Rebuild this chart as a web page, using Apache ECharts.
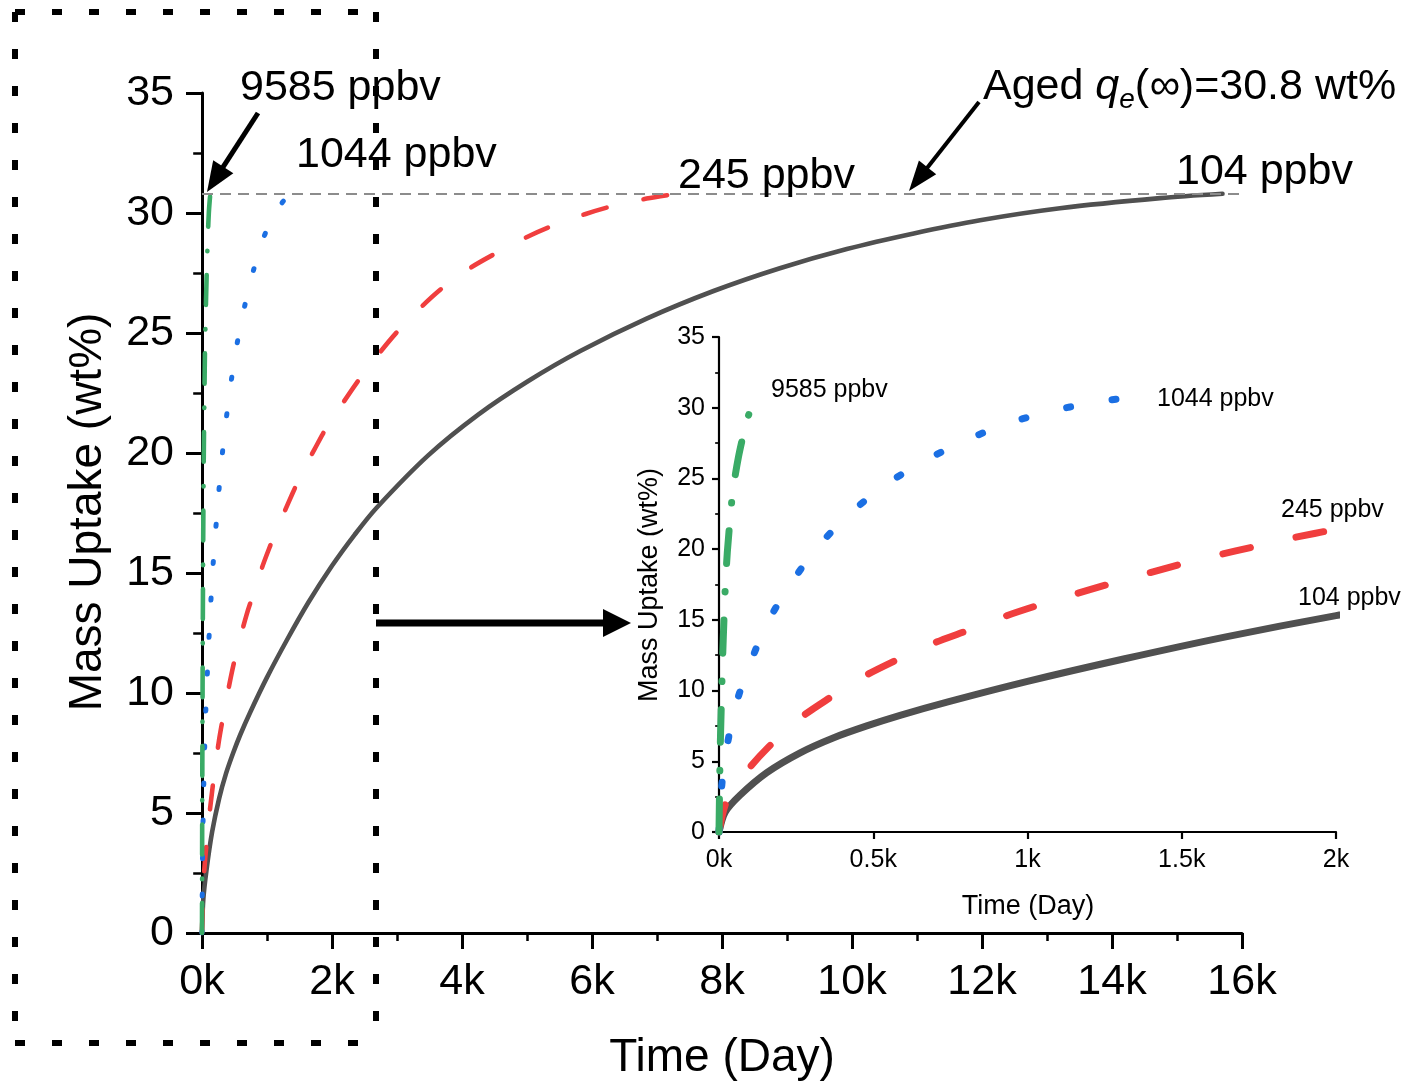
<!DOCTYPE html>
<html>
<head>
<meta charset="utf-8">
<script src="https://cdn.jsdelivr.net/npm/echarts@6/dist/echarts.min.js"></script>
<style>
  html, body { margin: 0; padding: 0; background: #fff; }
  #chart { width: 1412px; height: 1086px; }
</style>
</head>
<body>
<div id="chart"></div>
<script>
// Mass uptake vs. exposure time at four vapour concentrations
const QE_INF = 30.8;            // aged equilibrium capacity, wt%

const days9585   = [0, 3, 5, 9, 12, 16, 20, 27, 38, 46, 63, 78, 92, 105, 118, 128];
const uptake9585 = [0, 4.8, 6.9, 10.2, 12.5, 15.0, 17.1, 19.8, 22.6, 24.3, 26.5, 28.0, 29.2, 30.0, 30.5, 30.8];

const days1044   = [0, 9, 28, 59, 106, 162, 236, 314, 414, 530, 663, 791, 924, 1065, 1210, 1340];
const uptake1044 = [0, 3.3, 6.3, 9.3, 12.2, 15.0, 17.65, 20.0, 22.3, 24.4, 26.2, 27.6, 28.8, 29.7, 30.35, 30.75];

const days245   = [0, 25, 90, 160, 260, 360, 470, 570, 690, 800, 920, 1030, 1150, 1260, 1390, 1500, 1620, 1730, 1860, 2000,
                   2400, 2740, 3020, 3380, 3710, 4120, 4540, 5000, 5380, 5890, 6330, 6840, 7300];
const uptake245 = [0, 2.2, 4.3, 6.0, 8.0, 9.5, 11.0, 12.1, 13.3, 14.2, 15.2, 16.0, 16.8, 17.5, 18.3, 18.95, 19.6, 20.15, 20.8, 21.4,
                   23.0, 24.2, 25.1, 26.1, 26.9, 27.7, 28.35, 29.0, 29.45, 29.95, 30.3, 30.6, 30.8];

const days104   = [0, 20, 68, 155, 263, 370, 479, 587, 742, 1000, 1315, 1643, 2000, 2350, 2680, 3480, 4250, 5020, 5820,
                   6840, 7870, 8890, 9920, 10950, 11970, 13200, 14740, 15700];
const uptake104 = [0, 1.4, 2.6, 4.2, 5.6, 6.65, 7.5, 8.25, 9.2, 10.65, 12.25, 13.8, 15.3, 16.6, 17.7, 19.9, 21.6, 23.0, 24.25,
                   25.6, 26.75, 27.7, 28.5, 29.15, 29.7, 30.2, 30.62, 30.8];

const mainTicksX = { min: 0, max: 16000, interval: 2000 };
const insetTicksX = { min: 0, max: 2000, interval: 500 };
const ticksY = { min: 0, max: 35, interval: 5 };

const FONT = '"Liberation Sans", Arial, Helvetica, sans-serif';
const C104 = '#505050', C245 = '#f03e3e', C1044 = '#1b6fe3', C9585 = '#3aab66';

const pairs = (t, q) => t.map((d, i) => [d, q[i]]);

function lineSeries(name, t, q, axisIdx, color, width, dash, extra) {
  return Object.assign({
    name, type: 'line', xAxisIndex: axisIdx, yAxisIndex: axisIdx,
    data: pairs(t, q), showSymbol: false, symbol: 'none', smooth: 0.3,
    clip: true, silent: true,
    lineStyle: { color, width, type: dash, cap: 'round', join: 'round' }
  }, extra || {});
}

function xAxisCfg(grid, ticks, fontSize, margin, tickLen, minor, lineW) {
  return {
    gridIndex: grid, type: 'value', min: ticks.min, max: ticks.max, interval: ticks.interval,
    axisLine: { show: true, onZero: false, lineStyle: { color: '#000', width: lineW } },
    axisTick: { show: true, length: tickLen, lineStyle: { color: '#000', width: lineW } },
    minorTick: { show: minor, splitNumber: 2, length: tickLen / 2, lineStyle: { color: '#000', width: lineW - 0.5 } },
    splitLine: { show: false }, minorSplitLine: { show: false },
    axisLabel: { formatter: v => (v / 1000) + 'k', fontSize, color: '#000', fontFamily: FONT, margin }
  };
}
function yAxisCfg(grid, fontSize, margin, tickLen, lineW) {
  return {
    gridIndex: grid, type: 'value', min: ticksY.min, max: ticksY.max, interval: ticksY.interval,
    axisLine: { show: true, onZero: false, lineStyle: { color: '#000', width: lineW } },
    axisTick: { show: true, length: tickLen, lineStyle: { color: '#000', width: lineW } },
    minorTick: { show: true, splitNumber: 2, length: tickLen * 0.55, lineStyle: { color: '#000', width: lineW - 0.5 } },
    splitLine: { show: false }, minorSplitLine: { show: false },
    axisLabel: { fontSize, color: '#000', fontFamily: FONT, margin }
  };
}

// ---- annotation helpers ----
function txt(s, x, y, size, opts) {
  const o = opts || {};
  return {
    type: 'text', silent: true, z: 100,
    rotation: o.rotation || 0, x: o.rotation ? x : 0, y: o.rotation ? y : 0,
    style: {
      text: s, x: o.rotation ? 0 : x, y: o.rotation ? 0 : y,
      font: (o.italic ? 'italic ' : '') + size + 'px ' + FONT,
      fill: '#000',
      align: o.align || 'left', textAlign: o.align || 'left',
      verticalAlign: 'middle', textVerticalAlign: 'middle'
    }
  };
}
function arrow(x1, y1, x2, y2, w, headLen, headW) {
  const dx = x2 - x1, dy = y2 - y1, L = Math.hypot(dx, dy), ux = dx / L, uy = dy / L;
  const bx = x2 - ux * headLen, by = y2 - uy * headLen;
  return [
    { type: 'line', silent: true, z: 100, shape: { x1, y1, x2: bx + ux * 2, y2: by + uy * 2 },
      style: { stroke: '#000', lineWidth: w } },
    { type: 'polygon', silent: true, z: 100,
      shape: { points: [[x2, y2], [bx - uy * headW / 2, by + ux * headW / 2], [bx + uy * headW / 2, by - ux * headW / 2]] },
      style: { fill: '#000' } }
  ];
}
function dotted(x1, y1, x2, y2) {
  return { type: 'line', silent: true, z: 90, shape: { x1, y1, x2, y2 },
    style: { stroke: '#000', lineWidth: 6, lineDash: [10, 27] } };
}

// rich label "Aged q_e(∞)=30.8 wt%" assembled from pieces
const measureCtx = document.createElement('canvas').getContext('2d');
function tw(s, font) { measureCtx.font = font; return measureCtx.measureText(s).width; }
function qeLabel(x0, yc, size) {
  const subSize = Math.round(size * 0.66);
  const parts = [
    ['Aged ', size, false, 0],
    ['q', size, true, 0],
    ['e', subSize, true, size * 0.3],
    ['(', size, false, 0],
    ['\u221E', size, true, 0],
    [')=' + QE_INF + ' wt%', size, false, 0]
  ];
  const out = [];
  let x = x0;
  parts.forEach(([s, sz, it, dy]) => {
    out.push(txt(s, x, yc + dy, sz, { italic: it }));
    x += tw(s, (it ? 'italic ' : '') + sz + 'px ' + FONT);
  });
  return out;
}

const graphics = [].concat(
  // dotted frame around the early-time region
  dotted(15, 12, 15, 1045),
  dotted(15, 12, 376, 12),
  dotted(376, 12, 376, 1045),
  dotted(15, 1043, 376, 1043),
  // arrow towards the enlarged view
  arrow(376, 623, 631, 623, 7, 28, 28),
  // pointer arrows
  arrow(258, 113, 207, 192, 5, 30, 24),
  arrow(979, 102, 909, 191, 4, 30, 22),
  // main labels
  txt('9585 ppbv', 240, 88, 43),
  txt('1044 ppbv', 296, 155, 43),
  txt('245 ppbv', 678, 176, 43),
  txt('104 ppbv', 1176, 172, 43),
  qeLabel(983, 87, 43),
  txt('Mass Uptake (wt%)', 88, 512, 46, { rotation: Math.PI / 2, align: 'center' }),
  txt('Time (Day)', 722, 1058, 46, { align: 'center' }),
  // inset labels
  txt('9585 ppbv', 771, 390, 25),
  txt('1044 ppbv', 1157, 399, 25),
  txt('245 ppbv', 1281, 510, 25),
  txt('104 ppbv', 1298, 598, 25),
  txt('Mass Uptake (wt%)', 650, 585, 27, { rotation: Math.PI / 2, align: 'center' }),
  txt('Time (Day)', 1028, 907, 27, { align: 'center' })
);

const mainW = 4.6, insetW = 7;
const option = {
  animation: false,
  backgroundColor: '#fff',
  textStyle: { fontFamily: FONT },
  grid: [
    { left: 202, top: 93, width: 1040, height: 840 },
    { left: 719, top: 337, width: 617, height: 495 }
  ],
  xAxis: [
    xAxisCfg(0, mainTicksX, 43, 28, 16, true, 3),
    xAxisCfg(1, insetTicksX, 25, 16, 7, false, 2.2)
  ],
  yAxis: [
    yAxisCfg(0, 43, 28, 16, 3),
    yAxisCfg(1, 25, 14, 7, 2.2)
  ],
  series: [
    lineSeries('104 ppbv', days104, uptake104, 0, C104, mainW, 'solid', {
      markLine: {
        silent: true, symbol: 'none', label: { show: false },
        lineStyle: { color: '#8c8c8c', width: 2, type: [11, 7] },
        data: [[{ coord: [mainTicksX.min, QE_INF] }, { coord: [mainTicksX.max, QE_INF] }]]
      }
    }),
    lineSeries('245 ppbv', days245, uptake245, 0, C245, mainW, [24, 38]),
    lineSeries('1044 ppbv', days1044, uptake1044, 0, C1044, 5, [2, 35]),
    lineSeries('9585 ppbv', days9585, uptake9585, 0, C9585, mainW, [30, 24, 0.5, 24]),
    lineSeries('104 ppbv', days104, uptake104, 1, C104, insetW, 'solid'),
    lineSeries('245 ppbv', days245, uptake245, 1, C245, insetW, [28, 47]),
    lineSeries('1044 ppbv', days1044, uptake1044, 1, C1044, insetW, [4, 42]),
    lineSeries('9585 ppbv', days9585, uptake9585, 1, C9585, insetW, [33, 28, 0.5, 28])
  ],
  graphic: graphics
};

const chart = echarts.init(document.getElementById('chart'), null, { renderer: 'canvas' });
chart.setOption(option);
</script>
</body>
</html>
